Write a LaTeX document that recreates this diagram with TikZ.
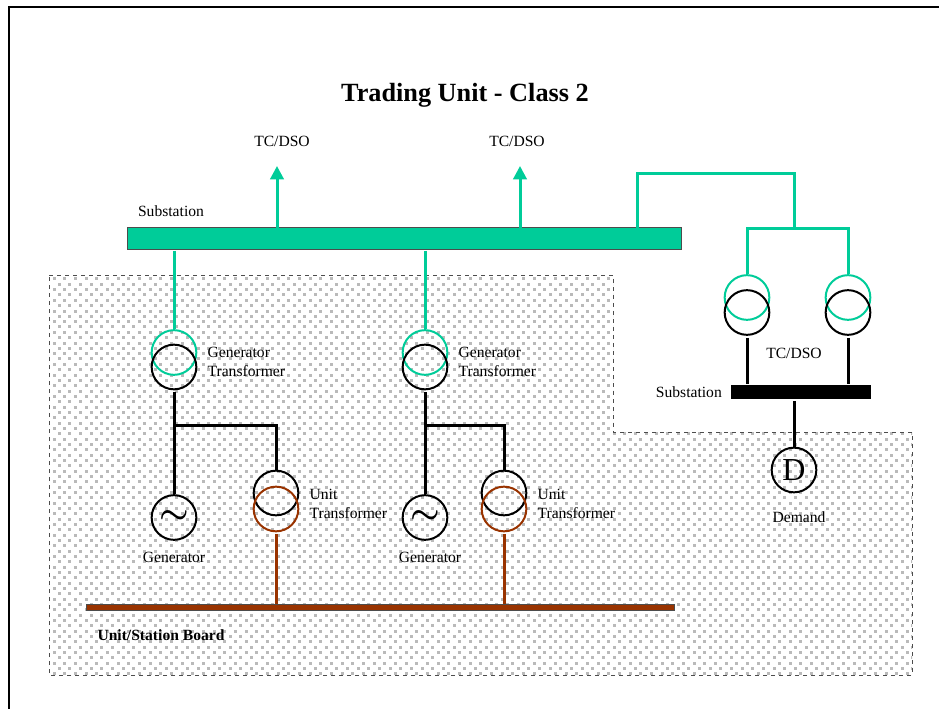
\documentclass[tikz,border=0pt]{standalone}
\usepackage{fontspec}
\setmainfont{Liberation Serif}
\usetikzlibrary{arrows.meta,positioning}
\definecolor{busgreen}{RGB}{0,204,153}
\definecolor{boardbrown}{RGB}{153,51,0}
\definecolor{dotgray}{RGB}{186,186,186}
\tikzset{
    winding/.style={circle,draw,line width=1.5pt,minimum size=33.5pt,inner sep=0pt},
    feeder/.style={line width=2.25pt},
    lbl/.style={font=\fontsize{11.7}{14}\selectfont,inner sep=0pt,align=left},
}
\begin{document}
\begin{tikzpicture}[x=0.75pt,y=-0.75pt]
    \useasboundingbox (0,0) rectangle (939,709);
    % outer frame
    \draw[line width=1.5pt] (9,709) -- (9,7) -- (939,7);
    % shaded region
    \begin{scope}
        \clip (49,275) -- (613,275) -- (613,432) -- (912,432) -- (912,675) -- (49,675) -- cycle;
        \foreach \i in {0,...,83} {
            \foreach \j in {0,...,38} {
                \fill[dotgray] ({52.5+10.67*\i},{277.5+10.67*\j}) rectangle +(3,3);
                \fill[dotgray] ({57.8+10.67*\i},{282.8+10.67*\j}) rectangle +(3,3);
            }
        }
    \end{scope}
    \draw[dashed,line width=0.6pt,black!70] (49,275) -- (613,275) -- (613,432) -- (912,432) -- (912,675) -- (49,675) -- cycle;
    \node[font=\bfseries\fontsize{19.7}{22}\selectfont] (title) at (465,95) {Trading Unit - Class 2};
    % substation bus
    \node[draw=black!70,fill=busgreen,minimum width=416pt,minimum height=16pt,inner sep=0pt,line width=0.6pt] (bus) at (404.5,238.5) {};
    \node[lbl] (sublbl) at (171,211) {Substation};
    \node[lbl] (tso1) at (282,141) {TC/DSO};
    \node[lbl] (tso2) at (517,141) {TC/DSO};
    \coordinate (tip1) at (277,166);
    \coordinate (tip2) at (520,166);
    \draw[busgreen,feeder,-{Triangle[length=10pt,width=10pt]}] (277,228) -- (tip1);
    \draw[busgreen,feeder,-{Triangle[length=10pt,width=10pt]}] (520,228) -- (tip2);
    % generator sets
    \foreach \n/\x/\ux/\gx in {a/174/276/174,b/425/504/430} {
        \node[winding,draw=busgreen] (gh\n) at (\x,352.5) {};
        \node[winding] (gl\n) at (\x,367) {};
        \node[lbl,right=7.5pt of gl\n.east,yshift=3.75pt] (glbl\n) {Generator\\Transformer};
        \node[winding,font=\fontsize{30}{30}\selectfont\boldmath] (gen\n) at (\x,517.5) {$\sim$};
        \node[lbl] (genlbl\n) at (\gx,557) {Generator};
        \node[winding] (ul\n) at (\ux,493) {};
        \node[winding,draw=boardbrown] (uh\n) at (\ux,509) {};
        \node[lbl,right=7.5pt of ul\n.east,yshift=-8pt] (ulbl\n) {Unit\\Transformer};
        \draw[busgreen,feeder] (\x,251) -- (gh\n.north);
        \draw[feeder,shorten <=1.5pt] (gl\n.south) -- (gen\n.north);
        \coordinate (t\n) at (\x,425);
        \draw[feeder] (t\n) -| (ul\n.north);
        \draw[boardbrown,feeder,shorten <=1.5pt] (uh\n.south) -- (\ux,604);
    }
    % unit board
    \node[draw=black!70,fill=boardbrown,minimum width=441pt,minimum height=4.5pt,inner sep=0pt,line width=0.4pt] (board) at (380.5,607) {};
    \node[lbl,font=\bfseries\fontsize{11.7}{14}\selectfont] (boardlbl) at (161,635) {Unit/Station Board};
    % demand side
    \coordinate (teeA) at (637,174);
    \coordinate (teeB) at (794,229);
    \draw[busgreen,feeder] (637,228) -- (teeA) -| (teeB);
    \node[winding,draw=busgreen] (dha) at (747,297.5) {};
    \node[winding,draw=busgreen] (dhb) at (848,297.5) {};
    \node[winding] (dla) at (747,312.5) {};
    \node[winding] (dlb) at (848,312.5) {};
    \draw[busgreen,feeder] (dha.north) |- (teeB) -| (dhb.north);
    \node[fill=black,minimum width=105pt,minimum height=11pt,inner sep=0pt] (dbus) at (801,392) {};
    \draw[feeder,shorten <=1.5pt] (dla.south) -- (dbus.north -| dla.south);
    \draw[feeder,shorten <=1.5pt] (dlb.south) -- (dbus.north -| dlb.south);
    \node[lbl] (dso) at (794,353) {TC/DSO};
    \node[lbl,left=6.5pt of dbus] (dbuslbl) {Substation};
    \node[winding,font=\fontsize{24}{24}\selectfont] (dem) at (794,470) {D};
    \draw[feeder] (794,401) -- (dem.north);
    \node[lbl] (demlbl) at (799,517) {Demand};
\end{tikzpicture}
\end{document}
